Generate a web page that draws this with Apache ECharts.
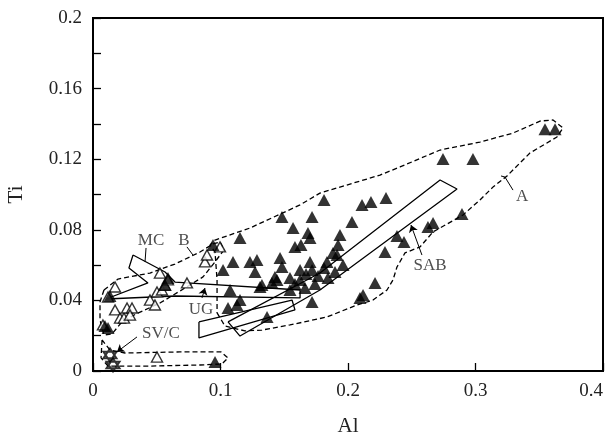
<!DOCTYPE html>
<html lang="en">
<head>
<meta charset="UTF-8">
<title>Ti - Al</title>
<script src="https://cdn.jsdelivr.net/npm/echarts@6/dist/echarts.min.js"></script>
</head>
<body style="padding:0;margin:0;background:#fff">
<div id="main" style="width:610px;height:433px;"></div>
<script>
// tick labels
var xTickLabels = ['0', '0.1', '0.2', '0.3', '0.4'];
var yTickLabels = ['0', '0.04', '0.08', '0.12', '0.16', '0.2'];

// filled triangles [Al, Ti]
var filledPts = [
    [0.3545, 0.137], [0.3624, 0.137], [0.2745, 0.1201], [0.2980, 0.1201],
    [0.2298, 0.0980], [0.2894, 0.0890], [0.2627, 0.0816], [0.2667, 0.0839],
    [0.2384, 0.0765], [0.2439, 0.0731], [0.1812, 0.0969], [0.2110, 0.0941],
    [0.2180, 0.0958], [0.2031, 0.0844], [0.1937, 0.0771], [0.1922, 0.0714],
    [0.1882, 0.0669], [0.2290, 0.0674], [0.1961, 0.0601], [0.1835, 0.0618],
    [0.2212, 0.0499], [0.2118, 0.0431], [0.2094, 0.0414], [0.1482, 0.0873],
    [0.1718, 0.0873], [0.1569, 0.0810], [0.1702, 0.0754], [0.1686, 0.0782],
    [0.1584, 0.0703], [0.1631, 0.0714], [0.1153, 0.0754], [0.0941, 0.0714],
    [0.1098, 0.0618], [0.1231, 0.0618], [0.1286, 0.0629], [0.1271, 0.0561],
    [0.1467, 0.0640], [0.1482, 0.0589], [0.1020, 0.0572], [0.1624, 0.0516],
    [0.1671, 0.0550], [0.1718, 0.0572], [0.1765, 0.0538], [0.1812, 0.0584],
    [0.1843, 0.0527], [0.1741, 0.0493], [0.1663, 0.0470], [0.1584, 0.0493],
    [0.1545, 0.0459], [0.1898, 0.0561], [0.1702, 0.0618], [0.1624, 0.0572],
    [0.1545, 0.0527], [0.1427, 0.0533], [0.1325, 0.0487], [0.1075, 0.0459],
    [0.1153, 0.0402], [0.1059, 0.0357], [0.1129, 0.0374], [0.1718, 0.0391],
    [0.1365, 0.0306], [0.1914, 0.0657], [0.0118, 0.0244], [0.0094, 0.0255],
    [0.0133, 0.0425], [0.0957, 0.0051], [0.0588, 0.0527], [0.0565, 0.0487],
    [0.1310, 0.0476], [0.1404, 0.0499], [0.1443, 0.0516]
];

// open triangles [Al, Ti]
var openPts = [
    [0.0173, 0.0476], [0.0118, 0.0419], [0.0173, 0.0346], [0.0212, 0.0300],
    [0.0243, 0.0300], [0.0267, 0.0357], [0.0306, 0.0357], [0.0290, 0.0317],
    [0.0447, 0.0402], [0.0486, 0.0374], [0.0525, 0.0555], [0.0502, 0.0448],
    [0.0541, 0.0459], [0.0565, 0.0487], [0.0588, 0.0516], [0.0737, 0.0499],
    [0.0878, 0.0618], [0.0894, 0.0657], [0.0996, 0.0703], [0.0078, 0.0261],
    [0.0502, 0.0079]
];

// SV/C stars
var starPts = [[0.0133, 0.0091], [0.0157, 0.0034]];

// dashed envelopes
var envA = [
    [0.0973, 0.0329], [0.1035, 0.0255], [0.1192, 0.0227], [0.1325, 0.0232],
    [0.1545, 0.0261], [0.1835, 0.0306], [0.2071, 0.0374], [0.2196, 0.0402],
    [0.2306, 0.0459], [0.2353, 0.0516], [0.2384, 0.0589], [0.2447, 0.0669],
    [0.2565, 0.0703], [0.2667, 0.0788], [0.2902, 0.0884], [0.3035, 0.0969],
    [0.3137, 0.1042], [0.3247, 0.1105], [0.3427, 0.1235], [0.3639, 0.1326],
    [0.3686, 0.1377], [0.3608, 0.1422], [0.3506, 0.1416], [0.3294, 0.1348],
    [0.3035, 0.1297], [0.2722, 0.1252], [0.2408, 0.1156], [0.2251, 0.1110],
    [0.1780, 0.1008], [0.1624, 0.0941], [0.1231, 0.0810], [0.0957, 0.0742],
    [0.0918, 0.0714], [0.0957, 0.0674], [0.0973, 0.0516], [0.0973, 0.0329]
];
var envB = [
    [0.0086, 0.0459], [0.0196, 0.0521], [0.0447, 0.0555], [0.0643, 0.0606],
    [0.0839, 0.0674], [0.0941, 0.0720], [0.0996, 0.0731], [0.1027, 0.0686],
    [0.0957, 0.0618], [0.0863, 0.0533], [0.0682, 0.0453], [0.0525, 0.0385],
    [0.0337, 0.0323], [0.0227, 0.0278], [0.0149, 0.0210], [0.0086, 0.0204],
    [0.0055, 0.0289], [0.0055, 0.0391], [0.0086, 0.0459]
];
var envSVC = [
    [0.0071, 0.0176], [0.0063, 0.0074], [0.0118, 0.0028], [0.0447, 0.0028],
    [0.0839, 0.0034], [0.1012, 0.0040], [0.1059, 0.0074], [0.1004, 0.0108],
    [0.0682, 0.0108], [0.0251, 0.0102], [0.0133, 0.0119], [0.0071, 0.0176]
];

// solid fields
var fieldMC = [
    [0.0314, 0.0657], [0.0565, 0.0561], [0.0643, 0.0504], [0.1624, 0.0459],
    [0.1624, 0.0414], [0.0643, 0.0425], [0.0102, 0.0408], [0.0431, 0.0499],
    [0.0282, 0.0584], [0.0314, 0.0657]
];
var fieldSAB = [
    [0.1059, 0.0278], [0.1153, 0.0198], [0.1780, 0.0459], [0.2855, 0.1031],
    [0.2722, 0.1082], [0.1780, 0.0555], [0.1059, 0.0278]
];
var fieldUG = [
    [0.0831, 0.0278], [0.0831, 0.0187], [0.1584, 0.0346], [0.1561, 0.0402],
    [0.0831, 0.0278]
];

// field labels
var labelText = ['A', 'SAB', 'MC', 'B', 'UG', 'SV/C'];
var labelX = [0.3365, 0.2643, 0.0455, 0.0714, 0.0847, 0.0533];
var labelY = [0.0986, 0.0595, 0.0737, 0.0742, 0.0351, 0.0215];

// leader lines [from, to, arrow]
var leaders = [
    [[0.3200, 0.1105], [0.3231, 0.1099], false],
    [[0.3231, 0.1099], [0.3294, 0.1025], false],
    [[0.2580, 0.0657], [0.2494, 0.0827], true],
    [[0.0416, 0.0697], [0.0408, 0.0618], false],
    [[0.0737, 0.0703], [0.0784, 0.0657], false],
    [[0.0855, 0.0414], [0.0878, 0.0470], true],
    [[0.0345, 0.0193], [0.0188, 0.0108], true]
];

var font = 'Liberation Serif';
var myChart = echarts.init(document.getElementById('main'));

function outline(data, dashed) {
    return {
        type: 'line',
        data: data,
        symbol: 'none',
        silent: true,
        z: 1,
        lineStyle: { color: '#000', width: 1.3, type: dashed ? [5, 3] : 'solid' }
    };
}

var labelData = labelText.map(function (t, i) { return [labelX[i], labelY[i], t]; });
var leaderData = leaders.map(function (l) {
    return [
        { coord: l[0], symbol: 'none' },
        { coord: l[1], symbol: l[2] ? 'arrow' : 'none', symbolSize: 7 }
    ];
});

var option = {
    animation: false,
    backgroundColor: '#fff',
    grid: {
        left: 93, right: 7, top: 18, bottom: 62, outerBoundsMode: 'none',
        show: true, borderColor: '#000', borderWidth: 2
    },
    xAxis: {
        type: 'value', min: 0, max: 0.4, interval: 0.1,
        name: 'Al', nameLocation: 'middle', nameGap: 45,
        nameTextStyle: { fontFamily: font, fontSize: 21, color: '#222' },
        axisLine: { lineStyle: { color: '#000', width: 2 } },
        axisTick: { inside: true, length: 8, lineStyle: { color: '#000', width: 1.3 } },
        axisLabel: {
            fontFamily: font, fontSize: 19, color: '#222', margin: 11, alignMaxLabel: 'right',
            formatter: function (v) { var s = String(+v.toFixed(2)); return xTickLabels.indexOf(s) >= 0 ? s : ''; }
        },
        splitLine: { show: false }
    },
    yAxis: {
        type: 'value', min: 0, max: 0.2, interval: 0.02,
        name: 'Ti', nameLocation: 'middle', nameGap: 66,
        nameTextStyle: { fontFamily: font, fontSize: 21, color: '#222' },
        axisLine: { lineStyle: { color: '#000', width: 2 } },
        axisTick: { inside: true, length: 8, lineStyle: { color: '#000', width: 1.3 } },
        axisLabel: {
            fontFamily: font, fontSize: 19, color: '#222', margin: 11,
            formatter: function (v) { var s = String(+v.toFixed(2)); return yTickLabels.indexOf(s) >= 0 ? s : ''; }
        },
        splitLine: { show: false }
    },
    series: [
        outline(envA, true),
        outline(envB, true),
        outline(envSVC, true),
        outline(fieldMC, false),
        outline(fieldSAB, false),
        outline(fieldUG, false),
        {
            type: 'scatter', data: openPts, symbol: 'triangle', symbolSize: [11, 10], z: 3,
            itemStyle: { color: '#fff', borderColor: '#000', borderWidth: 1.4 }
        },
        {
            type: 'scatter', data: filledPts, symbol: 'triangle', symbolSize: [13, 12], z: 4,
            itemStyle: { color: '#000' }
        },
        {
            type: 'scatter', data: starPts, z: 4,
            symbol: 'path://M0,-10L8.66,5L-8.66,5Z M0,10L8.66,-5L-8.66,-5Z', symbolSize: 13,
            itemStyle: { color: 'rgba(0,0,0,0)', borderColor: '#000', borderWidth: 2 }
        },
        {
            type: 'scatter', data: labelData, symbolSize: 0, z: 5, silent: true,
            label: {
                show: true, position: 'inside', fontFamily: font, fontSize: 17, color: '#222',
                formatter: function (p) { return p.data[2]; }
            },
            markLine: {
                silent: true, animation: false,
                label: { show: false },
                lineStyle: { color: '#000', width: 1, type: 'solid' },
                data: leaderData
            }
        }
    ]
};
myChart.setOption(option);
</script>
</body>
</html>
